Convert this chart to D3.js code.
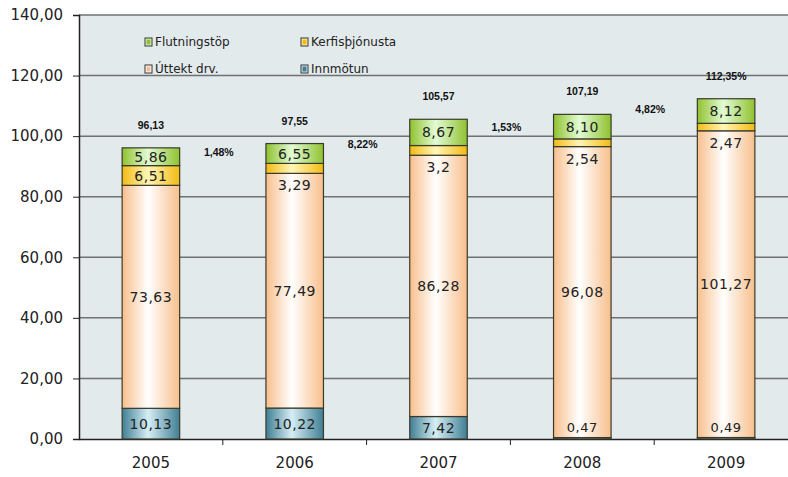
<!DOCTYPE html>
<html>
<head>
<meta charset="utf-8">
<script src="https://cdn.jsdelivr.net/npm/d3@7"></script>
<style>
  body { margin: 0; background: #fff; }
  svg { display: block; }
</style>
</head>
<body>
<div id="chart"></div>
<script>
const years = ["2005", "2006", "2007", "2008", "2009"];
const innmotun = [10.13, 10.22, 7.42, 0.47, 0.49];
const uttekt = [73.63, 77.49, 86.28, 96.08, 101.27];
const kerfis = [6.51, 3.29, 3.2, 2.54, 2.47];
const flutning = [5.86, 6.55, 8.67, 8.10, 8.12];
const totals = ["96,13", "97,55", "105,57", "107,19", "112,35%"];
const changes = ["1,48%", "8,22%", "1,53%", "4,82%"];
const changeLevel = [94.5, 97.2, 102.8, 108.7];
const yTicks = [0, 20, 40, 60, 80, 100, 120, 140];

const series = [
  { name: "Innmötun", values: innmotun, id: "gInn", edge: "#3f7f93", mid: "#d6eef5" },
  { name: "Úttekt drv.", values: uttekt, id: "gUtt", edge: "#f8bf8c", mid: "#ffffff" },
  { name: "Kerfisþjónusta", values: kerfis, id: "gKer", edge: "#f3bb12", mid: "#fff6b8" },
  { name: "Flutningstöp", values: flutning, id: "gFlu", edge: "#8fc22e", mid: "#e2fbd6" }
];

const W = 788, H = 477;
const margin = { top: 15, right: -10, bottom: 38, left: 79 };
const width = W - margin.left - margin.right;
const height = H - margin.top - margin.bottom;

const svg = d3.select("#chart").append("svg")
  .attr("width", W).attr("height", H);

const defs = svg.append("defs");
series.forEach(s => {
  const g = defs.append("linearGradient").attr("id", s.id)
    .attr("x1", "0%").attr("x2", "100%").attr("y1", "0%").attr("y2", "0%");
  g.append("stop").attr("offset", "0%").attr("stop-color", s.edge);
  g.append("stop").attr("offset", "45%").attr("stop-color", s.mid);
  g.append("stop").attr("offset", "100%").attr("stop-color", s.edge);
});

const g = svg.append("g").attr("transform", `translate(${margin.left},${margin.top})`);

const x = d3.scaleBand().domain(years).range([0, width]).paddingInner(0.6).paddingOuter(0.3);
const y = d3.scaleLinear().domain([0, 140]).range([height, 0]);

// plot background
g.append("rect").attr("x", 0).attr("y", 0).attr("width", width).attr("height", height)
  .attr("fill", "#e3eaec");

// gridlines
g.append("g").selectAll("line").data(yTicks.filter(t => t > 0)).join("line")
  .attr("x1", 0).attr("x2", width)
  .attr("y1", d => y(d)).attr("y2", d => y(d))
  .attr("stroke", "#6e7272").attr("stroke-width", 1.5);

// y axis
const yAxis = g.append("g")
  .call(d3.axisLeft(y).tickValues(yTicks).tickSize(6).tickFormat(d => d3.format(".2f")(d).replace(".", ",")));
yAxis.select(".domain").attr("stroke", "#222").attr("stroke-width", 1.5);
yAxis.selectAll(".tick line").attr("stroke", "#222");
yAxis.selectAll("text").attr("font-family", "DejaVu Sans, Verdana, sans-serif")
  .attr("font-size", 15).attr("fill", "#222").attr("x", -16);

// x axis
const xStep = x.step();
const xAxis = g.append("g").attr("transform", `translate(0,${height})`)
  .call(d3.axisBottom(x).tickSize(0).tickPadding(18));
xAxis.select(".domain").attr("stroke", "#222").attr("stroke-width", 1.5);
xAxis.selectAll("text").attr("font-family", "DejaVu Sans, Verdana, sans-serif")
  .attr("font-size", 15).attr("fill", "#222");
// category separator ticks
g.append("g").selectAll("line").data(years).join("line")
  .attr("x1", d => x(d) + x.bandwidth() / 2 + xStep / 2)
  .attr("x2", d => x(d) + x.bandwidth() / 2 + xStep / 2)
  .attr("y1", height).attr("y2", height + 6)
  .attr("stroke", "#222");

// stacked bars
const fmt = v => String(v).replace(".", ",");
const fmt2 = v => v.toFixed(2).replace(".", ",");
const barLayer = g.append("g");
const labelLayer = g.append("g");
years.forEach((yr, i) => {
  let base = 0;
  series.forEach((s, si) => {
    const v = s.values[i];
    const y0 = y(base), y1 = y(base + v);
    barLayer.append("rect")
      .attr("x", x(yr)).attr("width", x.bandwidth())
      .attr("y", y1).attr("height", y0 - y1)
      .attr("fill", `url(#${s.id})`)
      .attr("stroke", "#3a3a2a").attr("stroke-width", 1.2);
    const hgt = y0 - y1;
    let ly = (y0 + y1) / 2;
    if (hgt < 16) ly = si === 0 ? y0 - 12 : y0 + 12;
    const label = (si === 2 && v === 3.2) ? fmt(v) : fmt2(v);
    labelLayer.append("text")
      .attr("x", x(yr) + x.bandwidth() / 2).attr("y", ly)
      .attr("dy", "0.36em").attr("text-anchor", "middle")
      .attr("font-family", "DejaVu Sans, Verdana, sans-serif")
      .attr("font-size", si === 0 && v < 1 ? 13 : 14).attr("fill", "#222")
      .attr("letter-spacing", 0.5)
      .text(label);
    base += v;
  });
  labelLayer.append("text")
    .attr("x", x(yr) + x.bandwidth() / 2).attr("y", y(base) - 19)
    .attr("text-anchor", "middle")
    .attr("font-family", "Liberation Sans, Arial, sans-serif")
    .attr("font-weight", "bold").attr("font-size", 10.5).attr("fill", "#111")
    .text(totals[i]);
});

// change labels between bars
changes.forEach((c, i) => {
  g.append("text")
    .attr("x", x(years[i]) + x.bandwidth() / 2 + xStep / 2 - 4)
    .attr("y", y(changeLevel[i]))
    .attr("dy", "0.35em").attr("text-anchor", "middle")
    .attr("font-family", "Liberation Sans, Arial, sans-serif")
    .attr("font-weight", "bold").attr("font-size", 10.5).attr("fill", "#111")
    .text(c);
});

// legend
const legendItems = [series[3], series[2], series[1], series[0]];
const legend = g.append("g");
legendItems.forEach((s, i) => {
  const lx = 66 + (i % 2) * 156;
  const ly = 27 + Math.floor(i / 2) * 27;
  legend.append("rect").attr("x", lx).attr("y", ly - 4).attr("width", 7).attr("height", 8)
    .attr("fill", s.mid)
    .attr("stroke", "#333").attr("stroke-width", 1);
  legend.append("rect").attr("x", lx + 1.5).attr("y", ly - 2.5).attr("width", 4).attr("height", 5)
    .attr("fill", s.edge);
  legend.append("text").attr("x", lx + 10).attr("y", ly).attr("dy", "0.36em")
    .attr("font-family", "DejaVu Sans, Verdana, sans-serif")
    .attr("font-size", 12).attr("fill", "#222")
    .text(s.name);
});
</script>
</body>
</html>
